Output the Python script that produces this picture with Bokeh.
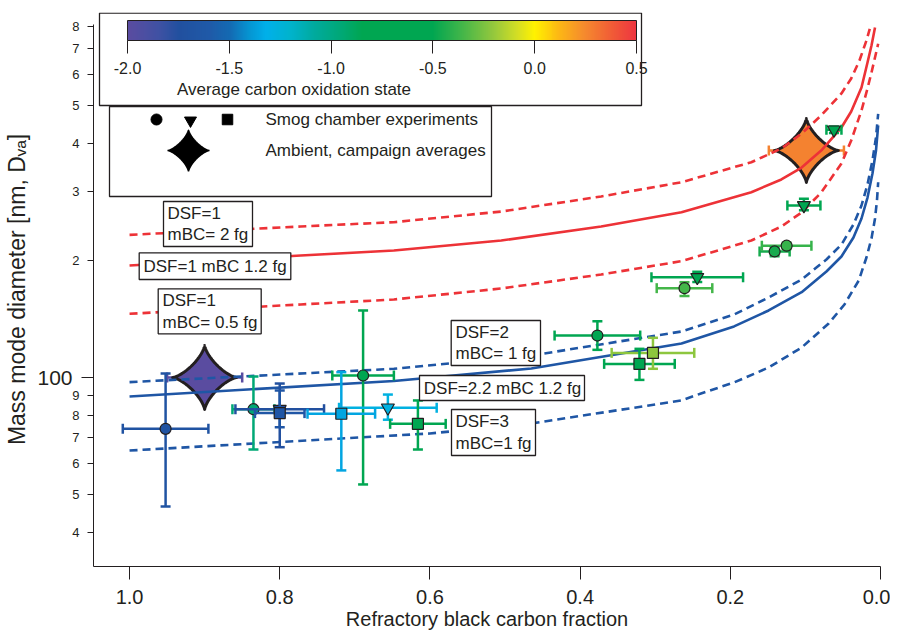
import numpy as np
from bokeh.plotting import figure
from bokeh.models import (Range1d, LinearScale, FixedTicker, ColumnDataSource, LinearColorMapper,
                          ColorBar, PrintfTickFormatter, LinearAxis, LogAxis)
from bokeh.transform import transform
from bokeh.core.properties import value
from bokeh.embed import file_html
from bokeh.resources import INLINE

# ---------------- data ----------------
frac_ticks = [1.0, 0.8, 0.6, 0.4, 0.2, 0.0]
ox_ticks = [-2.0, -1.5, -1.0, -0.5, 0.0, 0.5]
diam_big_tick = [100]
diam_ticks = [40, 50, 60, 70, 80, 90, 100, 200, 300, 400, 500, 600, 700, 800]
diam_labels = ["4", "5", "6", "7", "8", "9", "", "2", "3", "4", "5", "6", "7", "8"]

# model curves
dsf1_m2_x = [1.0, 0.772, 0.648, 0.505, 0.372, 0.265, 0.172, 0.132, 0.105, 0.079, 0.052,
             0.039, 0.028, 0.0187, 0.0143]
dsf1_m2_y = [232.7, 244.5, 250.8, 267.1, 292.0, 317.7, 357.6, 387.9, 423.9, 471.7, 537.4,
             587.1, 653.0, 735.2, 787.8]
dsf1_m12_x = [1.0, 0.772, 0.648, 0.505, 0.372, 0.265, 0.172, 0.132, 0.105, 0.079, 0.052,
              0.039, 0.0253, 0.0173, 0.012, 0.0073]
dsf1_m12_y = [194.1, 205.9, 212.1, 225.0, 244.5, 266.0, 299.5, 322.9, 346.6, 383.3, 439.2,
              483.0, 556.8, 645.3, 713.8, 793.9]
dsf1_m05_x = [1.0, 0.772, 0.648, 0.505, 0.372, 0.265, 0.172, 0.132, 0.105, 0.079, 0.052,
              0.039, 0.0253, 0.0173, 0.012, 0.0031]
dsf1_m05_y = [145.8, 154.1, 158.7, 169.4, 184.0, 199.1, 225.0, 244.5, 265.6, 298.9, 354.9,
              406.8, 485.8, 553.5, 608.2, 721.0]
dsf2_m1_x = [1.0, 0.648, 0.465, 0.265, 0.195, 0.149, 0.105, 0.072, 0.052, 0.036, 0.0253,
             0.0173, 0.0107, 0.006, 0.0031]
dsf2_m1_y = [97.3, 105.3, 113.9, 131.3, 145.2, 160.6, 178.6, 201.1, 219.7, 247.4, 276.8,
             313.4, 361.3, 414.1, 476.4]
dsf22_m12_x = [1.0, 0.648, 0.465, 0.265, 0.195, 0.149, 0.105, 0.072, 0.052, 0.036, 0.0253,
               0.0173, 0.0107, 0.006, 0.0031]
dsf22_m12_y = [89.4, 98.0, 105.5, 122.3, 135.3, 148.7, 165.7, 187.3, 204.7, 229.1, 256.3,
               290.2, 334.5, 383.3, 444.5]
dsf3_m1_x = [1.0, 0.600, 0.465, 0.265, 0.239, 0.195, 0.149, 0.105, 0.069, 0.048, 0.029,
             0.0187, 0.012, 0.0073, 0.0047, 0.0031]
dsf3_m1_y = [64.9, 71.8, 76.2, 87.3, 91.0, 97.1, 106.1, 119.4, 137.7, 154.1, 177.5,
             203.5, 227.7, 256.3, 285.1, 317.7]

# smog chamber experiments: circles
circ_x = [0.952, 0.835, 0.689, 0.377, 0.261, 0.141, 0.125]
circ_y = [73.8, 82.9, 101.2, 128.2, 169.7, 210.9, 218.2]
circ_ox = [-1.70, -0.95, -0.70, -0.62, -0.35, -0.45, -0.38]
circ_xerr = [0.057, 0.028, 0.041, 0.057, 0.037, 0.020, 0.033]
circ_ylo = [46.6, 65.3, 53.1, 117.8, 162.0, 205.0, 214.0]
circ_yhi = [102.4, 100.6, 148.7, 139.5, 175.8, 216.3, 222.0]
# inverted triangles
tri_x = [0.800, 0.656, 0.244, 0.102, 0.062]
tri_y = [82.9, 83.6, 181.0, 277.0, 433.5]
tri_ox = [-1.75, -1.28, -0.72, -0.65, -0.60]
tri_xerr = [0.059, 0.065, 0.061, 0.022, 0.010]
tri_ylo = [66.2, 77.9, 176.0, 269.0, 425.0]
tri_yhi = [96.5, 90.4, 187.0, 288.0, 442.0]
# squares
sq_x = [0.800, 0.718, 0.616, 0.321, 0.303]
sq_y = [81.0, 80.7, 76.0, 108.4, 115.7]
sq_ox = [-1.65, -1.35, -0.65, -0.50, -0.22]
sq_xerr = [0.033, 0.045, 0.037, 0.047, 0.055]
sq_ylo = [74.5, 57.7, 65.3, 98.6, 105.3]
sq_yhi = [92.6, 103.2, 87.3, 118.5, 126.5]
# ambient campaign averages
amb_x = [0.900, 0.0987]
amb_y = [100.0, 383.4]
amb_ox = [-2.0, 0.27]
amb_xerr = [0.05, 0.05]

curve_labels = ["DSF=1\nmBC= 2 fg", "DSF=1 mBC 1.2 fg", "DSF=1\nmBC= 0.5 fg",
                "DSF=2\nmBC= 1 fg", "DSF=2.2 mBC 1.2 fg", "DSF=3\nmBC=1 fg"]

# ---------------- styling / layout ----------------
FONT = "Liberation Sans"
INK = "#231f20"
RED = "#ed3237"
BLUE = "#1f56a5"
W, H = 890, 632
FL, FT, FW, FH = 93, 12, 787, 554
X0, X1 = 1.048, 0.0
Y0, Y1 = 32.67, 867.7

anchors = [(-2.00, "#5a4ca0"), (-1.85, "#3f51a3"), (-1.75, "#21509f"), (-1.60, "#1f5aa8"),
           (-1.50, "#1469b2"), (-1.40, "#0596d3"), (-1.32, "#00b0ea"), (-1.20, "#00b3cc"),
           (-1.08, "#00aa9c"), (-0.95, "#00a875"), (-0.85, "#00a651"), (-0.50, "#00a651"),
           (-0.35, "#45b649"), (-0.20, "#95c83d"), (-0.08, "#d6df23"), (0.00, "#fff200"),
           (0.12, "#fdb913"), (0.25, "#f58a2e"), (0.38, "#f15d36"), (0.50, "#ee3640")]
av = np.array([a[0] for a in anchors])
ac = np.array([[int(a[1][i:i + 2], 16) for i in (1, 3, 5)] for a in anchors], dtype=float)
grid = np.linspace(-2.0, 0.5, 256)
palette = ["#%02x%02x%02x" % tuple(int(round(np.interp(g, av, ac[:, k]))) for k in range(3)) for g in grid]
mapper = LinearColorMapper(palette=palette, low=-2.0, high=0.5)

p = figure(width=W, height=H, output_backend="svg", toolbar_location=None,
           x_range=Range1d(X0, X1), y_range=Range1d(Y0, Y1), y_axis_type="log",
           min_border_left=FL, min_border_top=FT, min_border_right=W - FL - FW,
           min_border_bottom=H - FT - FH, outline_line_color=None,
           background_fill_color="white", border_fill_color="white")
p.xgrid.grid_line_color = None
p.ygrid.grid_line_color = None
p.extra_x_ranges = {"scr": Range1d(0, FW)}
p.extra_y_ranges = {"scr": Range1d(FH, 0)}
p.extra_x_scales = {"scr": LinearScale()}
p.extra_y_scales = {"scr": LinearScale()}

# ---- x axis ----
xa = p.xaxis[0]
xa.ticker = FixedTicker(ticks=frac_ticks)
xa.formatter = PrintfTickFormatter(format="%.1f")
xa.major_tick_out = 13
xa.major_tick_in = 0
xa.minor_tick_line_color = None
xa.axis_line_color = INK
xa.major_tick_line_color = INK
xa.major_label_text_font = FONT
xa.major_label_text_font_size = "20px"
xa.major_label_text_color = INK
xa.major_label_standoff = 10

xt = LinearAxis(ticker=FixedTicker(ticks=[]), axis_line_color=None, major_tick_line_color=None,
                minor_tick_line_color=None, major_tick_out=0, major_tick_in=0,
                major_label_standoff=0, bounds=(0.0, 1.0),
                axis_label="Refractory black carbon fraction", axis_label_standoff=1,
                axis_label_text_font=FONT, axis_label_text_font_size="20px",
                axis_label_text_font_style="normal", axis_label_text_color=INK)
p.add_layout(xt, "below")

# ---- y axis ----
ya = p.yaxis[0]
ya.ticker = FixedTicker(ticks=diam_ticks, minor_ticks=diam_big_tick)
ya.formatter = PrintfTickFormatter(format="%d")
ya.major_label_overrides = {t: s for t, s in zip(diam_ticks, diam_labels)}
ya.major_tick_out = 6
ya.major_tick_in = 0
ya.minor_tick_out = 12
ya.minor_tick_in = 0
ya.axis_line_color = INK
ya.major_tick_line_color = INK
ya.minor_tick_line_color = INK
ya.major_label_text_font = FONT
ya.major_label_text_font_size = "13px"
ya.major_label_text_color = INK
ya.major_label_standoff = 2
ya.bounds = (Y0, 808)

yt = LogAxis(ticker=FixedTicker(ticks=diam_big_tick), formatter=PrintfTickFormatter(format="%d"),
             axis_line_color=None, major_tick_line_color=None, minor_tick_line_color=None,
             major_tick_out=0, major_tick_in=0, major_label_standoff=-3,
             major_label_text_font=FONT, major_label_text_font_size="21px",
             major_label_text_color=INK, bounds=(34.94, Y1),
             axis_label="Mass mode diameter [nm, D\u1d65\u2090]", axis_label_standoff=4,
             axis_label_text_font=FONT, axis_label_text_font_size="23px",
             axis_label_text_font_style="normal", axis_label_text_color=INK)
p.add_layout(yt, "left")

# star shape (4-pointed, concave) in pixel offsets
XPPU = FW / (X0 - X1)
YPPD = FH / (np.log10(Y1) - np.log10(Y0))
t = np.linspace(0, 2 * np.pi, 161)
ux = np.sign(np.cos(t)) * np.abs(np.cos(t)) ** 2.75
uy = np.sign(np.sin(t)) * np.abs(np.sin(t)) ** 2.75
STAR_R = 32

# ambient error bars and stars
amb_src = ColumnDataSource(dict(
    x=amb_x, y=amb_y, ox=amb_ox,
    xlo=[a - e for a, e in zip(amb_x, amb_xerr)], xhi=[a + e for a, e in zip(amb_x, amb_xerr)],
    xs=[list(x0 + STAR_R * ux / XPPU) for x0 in amb_x],
    ys=[list(y0 * 10 ** (STAR_R * uy / YPPD)) for y0 in amb_y]))
p.segment(x0="xlo", x1="xhi", y0="y", y1="y", source=amb_src, line_width=2.5,
          line_color=transform("ox", mapper))
for col in ("xlo", "xhi"):
    p.scatter(x=col, y="y", source=amb_src, marker="dash", angle=np.pi / 2, size=10,
              line_width=2.5, line_color=transform("ox", mapper))
p.patches(xs="xs", ys="ys", source=amb_src, fill_color=transform("ox", mapper),
          line_color=INK, line_width=3, line_join="round")

# model curves
curves = [(dsf1_m2_x, dsf1_m2_y, RED, "8 5"), (dsf1_m12_x, dsf1_m12_y, RED, "solid"),
          (dsf1_m05_x, dsf1_m05_y, RED, "8 5"), (dsf2_m1_x, dsf2_m1_y, BLUE, "8 5"),
          (dsf22_m12_x, dsf22_m12_y, BLUE, "solid"), (dsf3_m1_x, dsf3_m1_y, BLUE, "8 5")]
for cx, cy, col, dash in curves:
    p.line(cx, cy, line_color=col, line_width=2.6, line_dash=dash, line_join="round")

# smog chamber points with error bars
def add_points(xs, ys, ox, xerr, ylo, yhi, marker, size):
    src = ColumnDataSource(dict(
        x=xs, y=ys, ox=ox, ylo=ylo, yhi=yhi,
        xlo=[a - e for a, e in zip(xs, xerr)], xhi=[a + e for a, e in zip(xs, xerr)]))
    c = transform("ox", mapper)
    p.segment(x0="xlo", x1="xhi", y0="y", y1="y", source=src, line_width=2.5, line_color=c)
    p.segment(x0="x", x1="x", y0="ylo", y1="yhi", source=src, line_width=2.5, line_color=c)
    for col in ("xlo", "xhi"):
        p.scatter(x=col, y="y", source=src, marker="dash", angle=np.pi / 2, size=10,
                  line_width=2.5, line_color=c)
    for col in ("ylo", "yhi"):
        p.scatter(x="x", y=col, source=src, marker="dash", size=10, line_width=2.5, line_color=c)
    p.scatter(x="x", y="y", source=src, marker=marker, size=size, fill_color=c,
              line_color=INK, line_width=1.2)

add_points(circ_x, circ_y, circ_ox, circ_xerr, circ_ylo, circ_yhi, "circle", 11)
add_points(tri_x, tri_y, tri_ox, tri_xerr, tri_ylo, tri_yhi, "inverted_triangle", 13)
add_points(sq_x, sq_y, sq_ox, sq_xerr, sq_ylo, sq_yhi, "square", 11)

# curve label boxes (pixel layout inside the frame)
box_l = [70, 45.7, 64.7, 357.7, 326, 358]
box_r = [159, 197.3, 167.7, 447, 491, 442]
box_t = [189, 240.3, 276.3, 308, 363, 397]
box_b = [234, 267, 321.3, 353, 388, 443]
txt_x = [74, 50, 69, 362, 330.3, 362]
p.quad(left=box_l, right=box_r, top=box_t, bottom=box_b, x_range_name="scr", y_range_name="scr",
       fill_color="white", line_color=INK, line_width=1.3)
p.text(x=txt_x, y=[(a + b) / 2 for a, b in zip(box_t, box_b)], text=curve_labels,
       x_range_name="scr", y_range_name="scr", text_font=value(FONT), text_font_size="17px",
       text_align="left", text_baseline="middle", text_line_height=1.13, text_color=INK)

# colour bar frame + legend frame
p.quad(left=[6, 16], right=[548, 398], top=[0.6, 94], bottom=[93, 184],
       x_range_name="scr", y_range_name="scr", fill_color="white", line_color=INK, line_width=1.3)
p.text(x=[200.5], y=[77], text=["Average carbon oxidation state"], x_range_name="scr",
       y_range_name="scr", text_font=value(FONT), text_font_size="17px", text_align="center",
       text_baseline="middle", text_color=INK)
cb = ColorBar(color_mapper=mapper, orientation="horizontal", location=(34, 490), width=509,
              height=20, padding=0, margin=0, ticker=FixedTicker(ticks=ox_ticks),
              formatter=PrintfTickFormatter(format="%.1f"), major_tick_out=13, major_tick_in=0,
              major_tick_line_color=INK, minor_tick_line_color=None, bar_line_color=INK,
              bar_line_width=1, major_label_text_font=FONT, major_label_text_font_size="16px",
              major_label_text_color=INK, label_standoff=8, background_fill_alpha=0,
              border_line_color=None)
p.add_layout(cb)

# legend contents
p.scatter(x=[63], y=[107], marker="circle", size=11, fill_color="black", line_color="black",
          x_range_name="scr", y_range_name="scr")
p.scatter(x=[97], y=[108], marker="inverted_triangle", size=12, fill_color="black",
          line_color="black", x_range_name="scr", y_range_name="scr")
p.scatter(x=[134], y=[107], marker="square", size=10.5, fill_color="black", line_color="black",
          x_range_name="scr", y_range_name="scr")
p.patch(x=list(95 + 21 * ux), y=list(138 + 21 * uy), fill_color="black", line_color="black",
        line_width=1.5, x_range_name="scr", y_range_name="scr")
p.text(x=[172, 172], y=[107, 138], text=["Smog chamber experiments", "Ambient, campaign averages"],
       x_range_name="scr", y_range_name="scr", text_font=value(FONT), text_font_size="17px",
       text_align="left", text_baseline="middle", text_color=INK)

open("out.html", "w").write(file_html(p, INLINE))
